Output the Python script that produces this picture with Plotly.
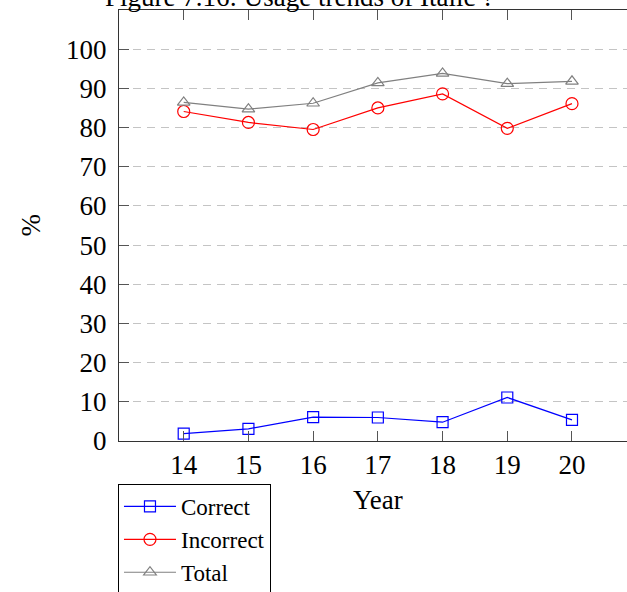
import plotly.graph_objects as go

years = [14, 15, 16, 17, 18, 19, 20]
correct = [1.9, 3.1, 6.1, 6.0, 4.8, 11.1, 5.4]
incorrect = [84.1, 81.3, 79.5, 85.0, 88.6, 79.8, 86.1]
total = [86.4, 84.7, 86.2, 91.4, 93.8, 91.2, 91.8]
y_ticks = [0, 10, 20, 30, 40, 50, 60, 70, 80, 90, 100]
title_text = "Figure 7.16: Usage trends of Italic ?"

FONT = "Liberation Serif"
FS = 27

fig = go.Figure()
series = [
    ("Correct", correct, "rgb(0,0,255)", "square-open", 11),
    ("Incorrect", incorrect, "rgb(255,0,0)", "circle-open", 12),
    ("Total", total, "rgb(128,128,128)", "triangle-up-open", 11),
]
for name, vals, col, sym, sz in series:
    fig.add_trace(go.Scatter(
        x=years, y=vals, name=name, mode="lines+markers",
        line=dict(color=col, width=1.2),
        marker=dict(symbol=sym, size=sz, color=col, line=dict(color=col, width=1.2)),
    ))

fig.update_layout(
    width=627, height=592,
    margin=dict(l=119, r=0, t=10, b=151, pad=0),
    plot_bgcolor="white", paper_bgcolor="white",
    font=dict(family=FONT, size=FS, color="black"),
    showlegend=True,
    legend=dict(
        x=-0.002, y=1 - 484 / 592, xanchor="left", yanchor="top",
        xref="paper", yref="container",
        bordercolor="black", borderwidth=1, bgcolor="white",
        font=dict(family=FONT, size=23),
        itemwidth=52,
        tracegroupgap=0,
    ),
    xaxis=dict(
        range=[13, 20.85], tickvals=years, ticktext=[str(v) for v in years],
        showline=True, linecolor="#333", linewidth=1, mirror="ticks",
        ticks="inside", ticklen=10, tickcolor="#555", tickwidth=1,
        showgrid=False, zeroline=False,
        tickfont=dict(family=FONT, size=FS),
    ),
    yaxis=dict(
        range=[0, 110], tickvals=y_ticks, ticktext=[str(v) for v in y_ticks],
        showline=True, linecolor="#333", linewidth=1, mirror=False,
        ticks="inside", ticklen=10, tickcolor="#555", tickwidth=1,
        showgrid=True, gridcolor="#c4c4c4", gridwidth=1, griddash="8px,6px",
        zeroline=False,
        tickfont=dict(family=FONT, size=FS),
        ticklabelstandoff=6,
    ),
    annotations=[
        dict(text=title_text, xref="paper", yref="paper", x=0.355, y=1.0,
             xanchor="center", yanchor="bottom", yshift=-4, showarrow=False,
             font=dict(family=FONT, size=FS)),
        dict(text="Year", xref="paper", yref="paper", x=0.51, y=-0.137,
             xanchor="center", yanchor="middle", showarrow=False,
             font=dict(family=FONT, size=FS)),
        dict(text="%", xref="paper", yref="paper", x=-0.175, y=0.5,
             xanchor="center", yanchor="middle", showarrow=False, textangle=-90,
             font=dict(family=FONT, size=FS)),
    ],
)

fig.write_html(
    "out.html",
    config={"displayModeBar": False},
    post_script="document.body.style.margin='0';document.body.style.overflow='hidden';",
)
